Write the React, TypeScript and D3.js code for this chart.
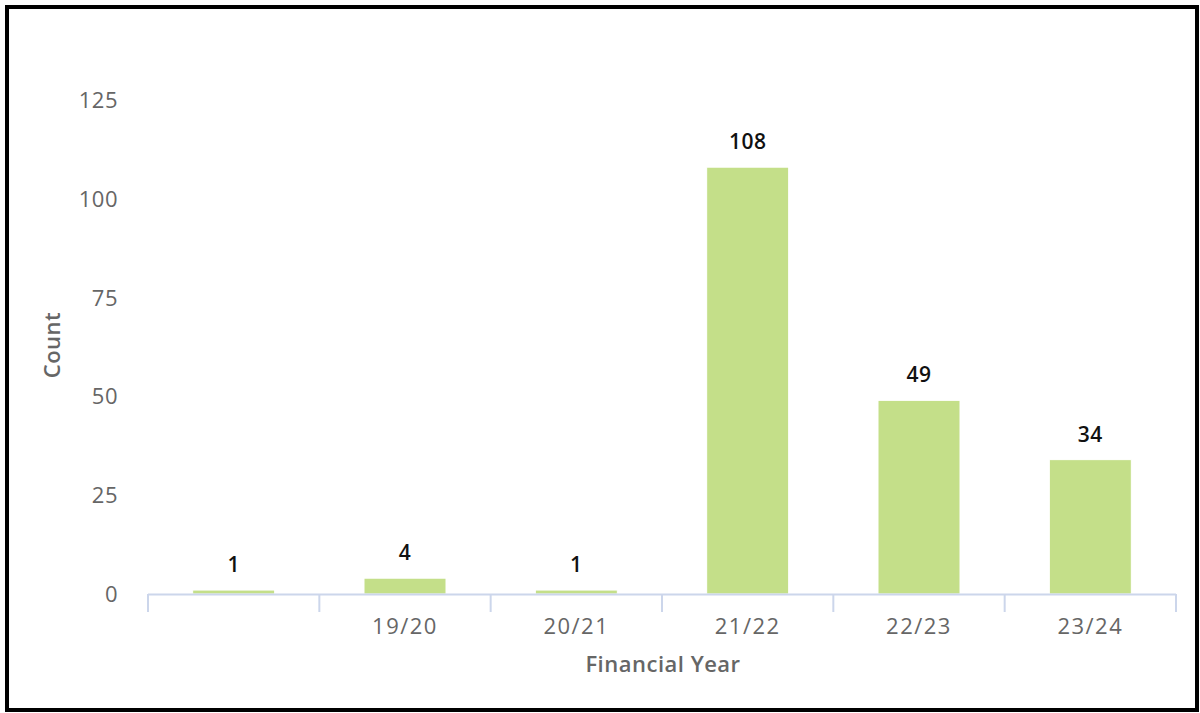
import * as d3 from 'd3'

const years = ['', '19/20', '20/21', '21/22', '22/23', '23/24']
const counts = [1, 4, 1, 108, 49, 34]
const yTicks = [0, 25, 50, 75, 100, 125]

const W = 1200
const H = 713
const left = 148
const right = 1176
const top = 100
const bottom = 594
const font = '"Open Sans", sans-serif'

export default function App(): JSX.Element {
  const x = d3.scaleBand<number>().domain(d3.range(years.length)).range([left, right])
  const y = d3.scaleLinear().domain([0, 125]).range([bottom, top])
  const barW = 82
  const edges = d3.range(years.length + 1).map((i) => left + i * x.bandwidth())

  return (
    <svg width={W} height={H} style={{ position: 'absolute', left: 0, top: 0 }}>
      <rect x={0} y={0} width={W} height={H} fill="#fff" />
      <rect x={7} y={7} width={1190} height={703} fill="none" stroke="#000" strokeWidth={4} />
      {yTicks.map((t) => (
        <text key={t} x={118} y={y(t) + 8} textAnchor="end" fontFamily={font} fontSize={22} fill="#666" letterSpacing={0.5}>
          {t}
        </text>
      ))}
      {counts.map((c, i) => {
        const cx = (x(i) ?? 0) + x.bandwidth() / 2
        return (
          <g key={i}>
            <rect x={cx - barW / 2} y={y(c)} width={barW} height={bottom - y(c)} fill="#c4df89" stroke="#fff" strokeWidth={1} />
            <text x={cx} y={y(c) - 18} textAnchor="middle" fontFamily={font} fontSize={21} fontWeight={600} fill="#111" letterSpacing={0.5}>
              {c}
            </text>
            <text x={cx} y={634} textAnchor="middle" fontFamily={font} fontSize={22} fill="#666" letterSpacing={1.5}>
              {years[i]}
            </text>
          </g>
        )
      })}
      <line x1={left} x2={right} y1={bottom + 0.5} y2={bottom + 0.5} stroke="#ccd6eb" strokeWidth={2} />
      {edges.map((e, i) => (
        <line key={i} x1={e} x2={e} y1={bottom} y2={612} stroke="#ccd6eb" strokeWidth={2} />
      ))}
      <text x={(left + right) / 2 + 1} y={672} textAnchor="middle" fontFamily={font} fontSize={22} fontWeight={600} fill="#666" letterSpacing={0.5}>
        Financial Year
      </text>
      <text transform={`translate(60,345) rotate(-90)`} textAnchor="middle" fontFamily={font} fontSize={22} fontWeight={600} fill="#666" letterSpacing={0.5}>
        Count
      </text>
    </svg>
  )
}
